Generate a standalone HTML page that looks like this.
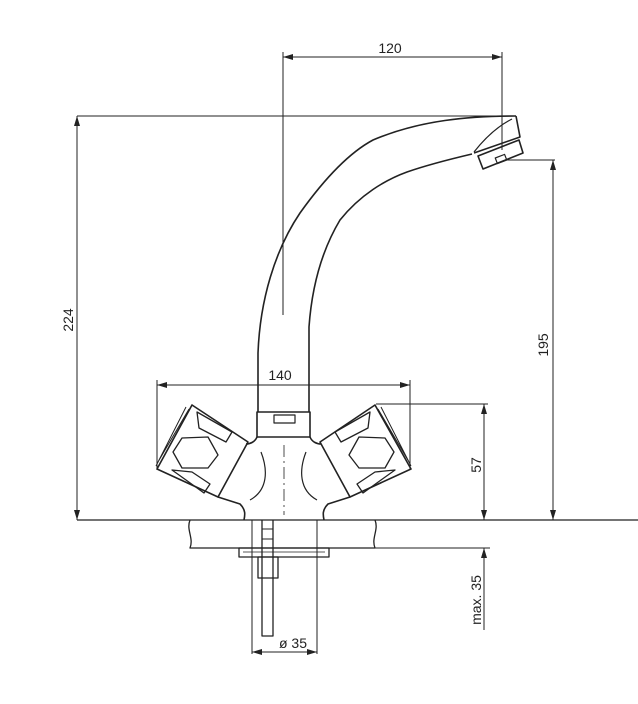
<!DOCTYPE html>
<html><head><meta charset="utf-8"><style>html,body{margin:0;padding:0;background:#fff}svg{display:block}</style></head>
<body>
<svg width="638" height="704" viewBox="0 0 638 704" xmlns="http://www.w3.org/2000/svg" font-family="Liberation Sans, sans-serif" fill="none" stroke="#222">
<defs>
<marker id="a" viewBox="0 0 10 6" refX="10" refY="3" markerWidth="10" markerHeight="6" orient="auto-start-reverse" markerUnits="userSpaceOnUse"><path d="M0,0 L10,3 L0,6 z" fill="#222" stroke="none"/></marker>
</defs>
<g stroke-width="1">
<!-- 120 -->
<line x1="283" y1="57" x2="502" y2="57" marker-start="url(#a)" marker-end="url(#a)"/>
<line x1="283" y1="52" x2="283" y2="315"/>
<line x1="502" y1="52" x2="502" y2="150"/>
<!-- 224 -->
<line x1="77" y1="116" x2="516" y2="116"/>
<line x1="77" y1="116" x2="77" y2="520" marker-start="url(#a)" marker-end="url(#a)"/>
<line x1="77" y1="520" x2="638" y2="520" stroke-width="1.3"/>
<!-- 195 -->
<line x1="505" y1="160" x2="555" y2="160"/>
<line x1="553" y1="160" x2="553" y2="520" marker-start="url(#a)" marker-end="url(#a)"/>
<!-- 140 -->
<line x1="157" y1="385" x2="410" y2="385" marker-start="url(#a)" marker-end="url(#a)"/>
<line x1="157" y1="380" x2="157" y2="470"/>
<line x1="410" y1="380" x2="410" y2="470"/>
<!-- 57 -->
<line x1="376" y1="404" x2="488" y2="404"/>
<line x1="484" y1="404" x2="484" y2="520" marker-start="url(#a)" marker-end="url(#a)"/>
<!-- max 35 -->
<line x1="345" y1="548" x2="490" y2="548"/>
<line x1="484" y1="548" x2="484" y2="630" marker-start="url(#a)"/>
<!-- ø35 -->
<line x1="252" y1="520" x2="252" y2="654"/>
<line x1="317" y1="520" x2="317" y2="654"/>
<line x1="252" y1="652" x2="317" y2="652" marker-start="url(#a)" marker-end="url(#a)"/>
</g>
<g stroke-width="1.6" stroke-linejoin="round">
<!-- spout -->
<path d="M258,412 L258,353 C260,300 275,250 300,213 C320,185 345,155 373,140 C420,120 470,116 516,116"/>
<path d="M309,412 L309,327 C312,285 322,250 340,220 C360,195 385,180 407,172 C430,164 455,158 472,154"/>
<path d="M516,116 L520,137 L474,153"/>
<path d="M474,152 C485,138 498,126 512,119" stroke-width="1.2"/>
<path d="M478,156 L519,140 L523,153 L483,169 Z"/>
<rect x="496" y="156" width="10" height="6" transform="rotate(-21 501 159)" stroke-width="1.2"/>
<!-- block -->
<rect x="257" y="412" width="53" height="25"/>
<rect x="274" y="415" width="21" height="8" stroke-width="1.2"/>
<!-- left handle -->
<path d="M192,405 L248,442 L218,497 L157,469 Z"/>
<path d="M189,409 L158,462 M186,407 L156,466" stroke-width="1"/>
<path d="M197,412 L232,432 L226,442 L199,428 Z M182,438 L208,437 L218,455 L208,468 L182,468 L173,452 Z M172,470 L186,480 L204,493 L210,484 L192,472 Z" stroke-width="1.3"/>
<!-- right handle -->
<path d="M375,405 L320,442 L350,497 L411,469 Z"/>
<path d="M378,409 L409,462 M381,407 L411,466" stroke-width="1"/>
<path d="M370,412 L335,432 L341,442 L368,428 Z M385,438 L359,437 L349,455 L359,468 L385,468 L394,452 Z M395,470 L381,480 L363,493 L357,484 L375,472 Z" stroke-width="1.3"/>
<!-- body -->
<path d="M257,437 C255,442 250,444 246,444"/>
<path d="M310,437 C312,442 317,444 321,444"/>
<path d="M218,497 L240,504 C246,510 245,515 244,520"/>
<path d="M350,497 L328,504 C322,510 323,515 324,520"/>
<path d="M261,452 C268,470 268,490 250,500" stroke-width="1.2"/>
<path d="M306,452 C299,470 299,490 317,500" stroke-width="1.2"/>
<line x1="284" y1="445" x2="284" y2="515" stroke-width="0.8" stroke-dasharray="12,4,2,4"/>
<!-- counter -->
<path d="M190,520 C186,530 194,538 190,548 L375,548 C371,538 379,530 375,520" stroke-width="1.3"/>
<rect x="239" y="548" width="90" height="9" stroke-width="1.3"/>
<line x1="243" y1="552" x2="325" y2="552" stroke-width="0.8"/>
<!-- rod -->
<path d="M262,520 L262,636 L273,636 L273,520" stroke-width="1.3"/>
<rect x="258" y="557" width="20" height="21" stroke-width="1.3"/>
<rect x="262" y="529" width="11" height="10" stroke-width="1"/>
</g>
<g fill="#222" stroke="none" font-size="14">
<text x="390" y="53" text-anchor="middle">120</text>
<text x="280" y="380" text-anchor="middle">140</text>
<text x="293" y="648" text-anchor="middle">ø 35</text>
<text transform="translate(73,320) rotate(-90)" text-anchor="middle">224</text>
<text transform="translate(548,345) rotate(-90)" text-anchor="middle">195</text>
<text transform="translate(481,465) rotate(-90)" text-anchor="middle">57</text>
<text transform="translate(481,600) rotate(-90)" text-anchor="middle">max. 35</text>
</g>
</svg>
</body></html>
